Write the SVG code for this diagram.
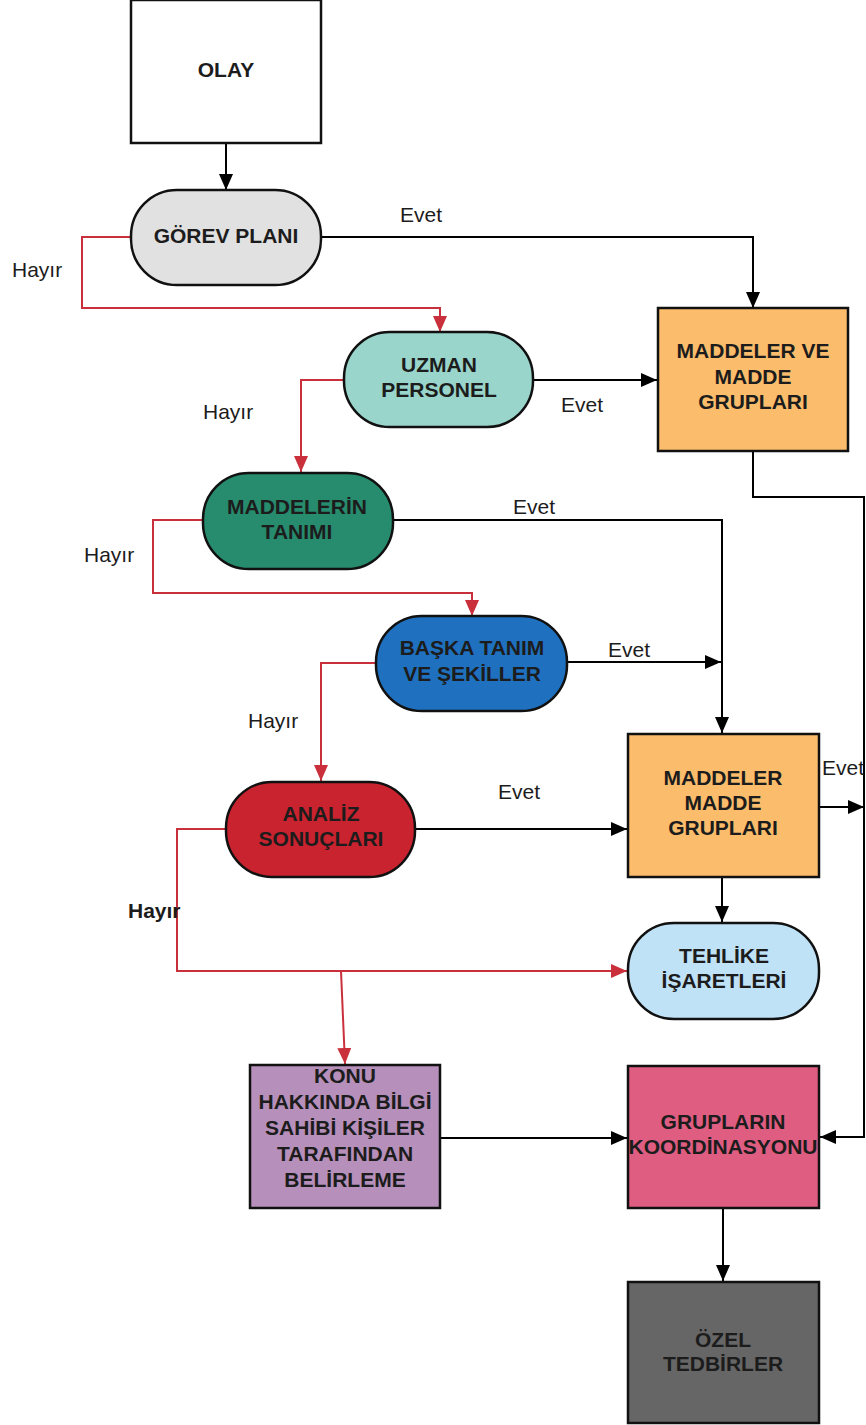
<svg xmlns="http://www.w3.org/2000/svg" width="866" height="1425" viewBox="0 0 866 1425">
  <defs>
    <marker id="arrow-black" markerUnits="userSpaceOnUse" markerWidth="16" markerHeight="14" viewBox="0 0 16 14" refX="16" refY="7" orient="auto">
      <path d="M0,0 L16,7 L0,14 Z" fill="#000"/>
    </marker>
    <marker id="arrow-red" markerUnits="userSpaceOnUse" markerWidth="16" markerHeight="14" viewBox="0 0 16 14" refX="16" refY="7" orient="auto">
      <path d="M0,0 L16,7 L0,14 Z" fill="#c9303c"/>
    </marker>
    <style>
      .node { stroke: #111; stroke-width: 2.5; }
      .title { font-family: "Liberation Sans", Arial, sans-serif; font-weight: bold; font-size: 21px; text-anchor: middle; fill: #1c1c1c; }
      .label { font-family: "Liberation Sans", Arial, sans-serif; font-size: 21px; fill: #1c1c1c; }
      .yes { fill: none; stroke: #000; stroke-width: 2; marker-end: url(#arrow-black); }
      .no { fill: none; stroke: #c9303c; stroke-width: 2; marker-end: url(#arrow-red); }
    </style>
  </defs>

  <rect width="866" height="1425" fill="#fff"/>

  <!-- connectors -->
  <g id="connectors">
    <path class="yes" d="M226 143 V190"/>
    <path class="yes" d="M321 237 H753 V308"/>
    <path class="no" d="M131 237 H82 V308 H440 V332"/>
    <path class="yes" d="M533 380 H657"/>
    <path class="no" d="M344 380 H301 V472"/>
    <path class="yes" d="M753 451 V497 H864 V1137 H820"/>
    <path class="yes" d="M393 520 H722 V733"/>
    <path class="no" d="M203 520 H153 V593 H472 V616"/>
    <path class="yes" d="M567 662 H721"/>
    <path class="no" d="M376 663 H321 V781"/>
    <path class="yes" d="M415 829 H627"/>
    <path class="yes" d="M819 807 H864"/>
    <path class="yes" d="M722 877 V922"/>
    <path class="no" d="M226 829 H177 V971 H627"/>
    <path class="no" d="M341 971 L345 1064"/>
    <path class="yes" d="M440 1138 H627"/>
    <path class="yes" d="M723 1208 V1281"/>

    <text class="label" x="400" y="222">Evet</text>
    <text class="label" x="12" y="277">Hayır</text>
    <text class="label" x="561" y="412">Evet</text>
    <text class="label" x="203" y="419">Hayır</text>
    <text class="label" x="513" y="514">Evet</text>
    <text class="label" x="84" y="562">Hayır</text>
    <text class="label" x="608" y="657">Evet</text>
    <text class="label" x="248" y="728">Hayır</text>
    <text class="label" x="498" y="799">Evet</text>
    <text class="label" x="128" y="918" font-weight="bold">Hayır</text>
    <text class="label" x="822" y="775">Evet</text>
  </g>

  <g id="olay">
    <rect class="node" x="131" y="0" width="190" height="143" fill="#fff"/>
    <text class="title" x="226" y="77">OLAY</text>
  </g>

  <g id="gorev-plani">
    <rect class="node" x="131" y="190" width="190" height="95" rx="46" ry="46" fill="#e1e1e1"/>
    <text class="title" x="226" y="243">GÖREV PLANI</text>
  </g>

  <g id="uzman-personel">
    <rect class="node" x="344" y="332" width="189" height="95" rx="46" ry="46" fill="#99d5ca"/>
    <text class="title" x="439" y="372">UZMAN</text>
    <text class="title" x="439" y="397">PERSONEL</text>
  </g>

  <g id="maddeler-ve-madde-gruplari">
    <rect class="node" x="658" y="308" width="190" height="143" fill="#fbbd6b"/>
    <text class="title" x="753" y="358">MADDELER VE</text>
    <text class="title" x="753" y="384">MADDE</text>
    <text class="title" x="753" y="409">GRUPLARI</text>
  </g>

  <g id="maddelerin-tanimi">
    <rect class="node" x="203" y="473" width="190" height="96" rx="46" ry="46" fill="#278b6d"/>
    <text class="title" x="297" y="514">MADDELERİN</text>
    <text class="title" x="297" y="539">TANIMI</text>
  </g>

  <g id="baska-tanim">
    <rect class="node" x="376" y="616" width="191" height="95" rx="46" ry="46" fill="#1f71bf"/>
    <text class="title" x="472" y="655" fill="#11213d">BAŞKA TANIM</text>
    <text class="title" x="472" y="681" fill="#11213d">VE ŞEKİLLER</text>
  </g>

  <g id="analiz-sonuclari">
    <rect class="node" x="226" y="782" width="189" height="95" rx="46" ry="46" fill="#c9232f"/>
    <text class="title" x="321" y="821" fill="#3a0b0e">ANALİZ</text>
    <text class="title" x="321" y="846" fill="#3a0b0e">SONUÇLARI</text>
  </g>

  <g id="maddeler-madde-gruplari">
    <rect class="node" x="628" y="734" width="191" height="143" fill="#fbbd6b"/>
    <text class="title" x="723" y="785">MADDELER</text>
    <text class="title" x="723" y="810">MADDE</text>
    <text class="title" x="723" y="835">GRUPLARI</text>
  </g>

  <g id="tehlike-isaretleri">
    <rect class="node" x="628" y="923" width="191" height="96" rx="46" ry="46" fill="#c0e2f6"/>
    <text class="title" x="724" y="963">TEHLİKE</text>
    <text class="title" x="724" y="988">İŞARETLERİ</text>
  </g>

  <g id="konu-hakkinda">
    <rect class="node" x="250" y="1065" width="190" height="143" fill="#b68fba"/>
    <text class="title" x="345" y="1083">KONU</text>
    <text class="title" x="345" y="1109">HAKKINDA BİLGİ</text>
    <text class="title" x="345" y="1135">SAHİBİ KİŞİLER</text>
    <text class="title" x="345" y="1161">TARAFINDAN</text>
    <text class="title" x="345" y="1187">BELİRLEME</text>
  </g>

  <g id="gruplarin-koordinasyonu">
    <rect class="node" x="628" y="1066" width="191" height="142" fill="#e05d82"/>
    <text class="title" x="723" y="1129" fill="#3a1020">GRUPLARIN</text>
    <text class="title" x="723" y="1154" fill="#3a1020">KOORDİNASYONU</text>
  </g>

  <g id="ozel-tedbirler">
    <rect class="node" x="628" y="1282" width="191" height="141" fill="#666"/>
    <text class="title" x="723" y="1347">ÖZEL</text>
    <text class="title" x="723" y="1371">TEDBİRLER</text>
  </g>
</svg>
